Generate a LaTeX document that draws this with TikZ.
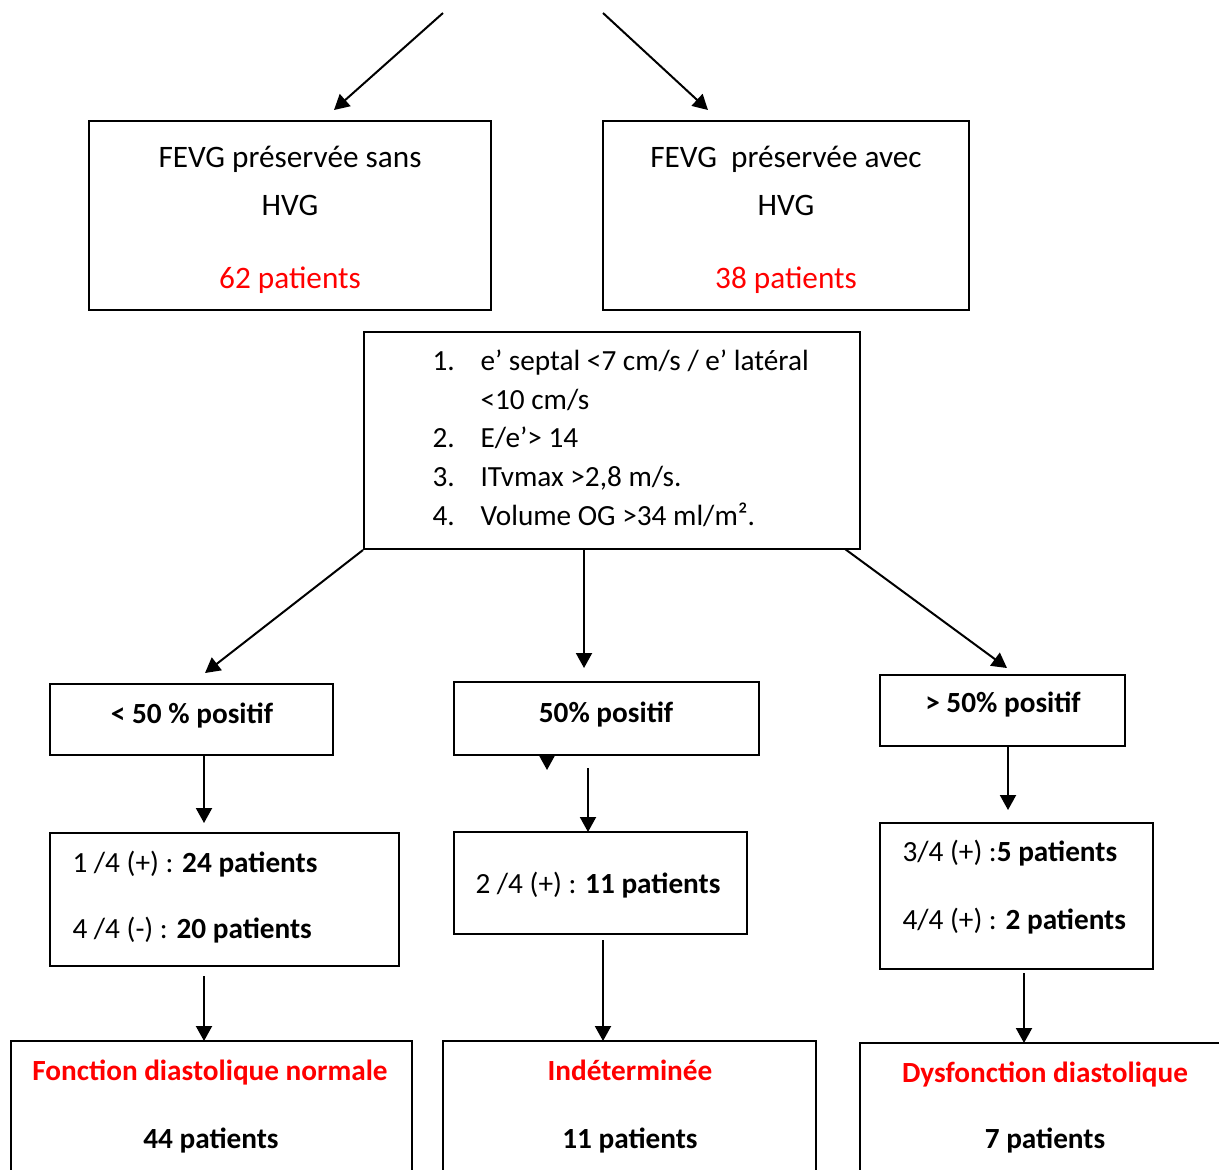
\documentclass[tikz,border=0pt]{standalone}
\usepackage{fontspec}
\setmainfont{Carlito}
\usetikzlibrary{arrows.meta,fit}
\definecolor{hired}{RGB}{255,0,0}
\begin{document}
\begin{tikzpicture}[x=0.4pt,y=-0.4pt,
  box/.style={draw,line width=0.8pt,inner sep=0pt},
  arr/.style={line width=0.8pt,-{Triangle[length=6pt,width=6.4pt]}},
  txt/.style={inner sep=0pt,font=\fontsize{11.7}{14}\selectfont},
  big/.style={inner sep=0pt,font=\fontsize{12.5}{15}\selectfont},
  btxt/.style={inner sep=0pt,font=\fontsize{11.7}{14}\selectfont\bfseries},
  redt/.style={text=hired}]
\useasboundingbox (0,0) rectangle (1219,1169);
\clip (0,0) rectangle (1219,1169);

% top boxes
\node[box,fit={(89,121) (491,310)}] (A) {};
\node[box,fit={(603,121) (969,310)}] (B) {};
\node[big,anchor=base] (a1) at (290,167) {FEVG préservée sans};
\node[big,anchor=base] (a2) at (290,215) {HVG};
\node[big,anchor=base,redt] (a3) at (290,288) {62 patients};
\node[big,anchor=base] (b1) at (786,167) {FEVG\ \ préservée avec};
\node[big,anchor=base] (b2) at (786,215) {HVG};
\node[big,anchor=base,redt] (b3) at (786,288) {38 patients};

\coordinate (t1) at (443,13);
\coordinate (t1e) at (334,110);
\coordinate (t2) at (603,13);
\coordinate (t2e) at (708,110);
\draw[arr] (t1) -- (t1e);
\draw[arr] (t2) -- (t2e);

% criteria box
\node[box,fit={(364,332) (860,549)}] (C) {};
\node[txt,anchor=base west] (n1) at (432,370) {1.};
\node[txt,anchor=base west] (l1) at (480,370) {e’ septal <7 cm/s / e’ latéral};
\node[txt,anchor=base west] (l1b) at (480,409) {<10 cm/s};
\node[txt,anchor=base west] (n2) at (432,447) {2.};
\node[txt,anchor=base west] (l2) at (480,447) {E/e’> 14};
\node[txt,anchor=base west] (n3) at (432,486) {3.};
\node[txt,anchor=base west] (l3) at (480,486) {ITvmax >2,8 m/s.};
\node[txt,anchor=base west] (n4) at (432,525) {4.};
\node[txt,anchor=base west] (l4) at (480,525) {Volume OG >34 ml/m².};

% second level
\node[box,fit={(50,684) (333,755)}] (D1) {};
\node[box,fit={(454,682) (759,755)}] (D2) {};
\node[box,fit={(880,675) (1125,746)}] (D3) {};
\node[btxt,anchor=base] (d1t) at (192,723) {< 50 \% positif};
\node[btxt,anchor=base] (d2t) at (606,722) {50\% positif};
\node[btxt,anchor=base] (d3t) at (1003,712) {> 50\% positif};

\coordinate (c2) at (584,549);
\coordinate (c3) at (845,549);
\coordinate (d1in) at (205,673);
\coordinate (d2in) at (584,668);
\coordinate (d3in) at (1007,668);
\draw[arr] (C.south west) -- (d1in);
\draw[arr] (c2) -- (d2in);
\draw[arr] (c3) -- (d3in);

% third level
\node[box,fit={(50,833) (399,966)}] (E1) {};
\node[box,fit={(454,832) (747,934)}] (E2) {};
\node[box,fit={(880,823) (1153,969)}] (E3) {};
\node[txt,anchor=base west] (e1a) at (72,872) {1 /4 (+) : \textbf{24 patients}};
\node[txt,anchor=base west] (e1b) at (72,938) {4 /4 (-) : \textbf{20 patients}};
\node[txt,anchor=base west] (e2a) at (475,893) {2 /4 (+) : \textbf{11 patients}};
\node[txt,anchor=base west] (e3a) at (902,861) {3/4 (+) :\textbf{5 patients}};
\node[txt,anchor=base west] (e3b) at (902,929) {4/4 (+) : \textbf{2 patients}};

\coordinate (d1o) at (204,755);
\coordinate (e1in) at (204,823);
\coordinate (stray) at (547,755);
\coordinate (straye) at (547,770);
\coordinate (d2o) at (588,768);
\coordinate (e2in) at (588,832);
\coordinate (d3o) at (1008,746);
\coordinate (e3in) at (1008,810);
\draw[arr] (d1o) -- (e1in);
\draw[arr] (stray) -- (straye);
\draw[arr] (d2o) -- (e2in);
\draw[arr] (d3o) -- (e3in);

% bottom boxes
\node[box,fit={(11,1041) (412,1200)}] (F1) {};
\node[box,fit={(443,1041) (816,1200)}] (F2) {};
\node[box,fit={(860,1043) (1240,1200)}] (F3) {};
\node[btxt,anchor=base,redt] (f1a) at (210,1080) {Fonction diastolique normale};
\node[btxt,anchor=base] (f1b) at (211,1148) {44 patients};
\node[btxt,anchor=base,redt] (f2a) at (630,1080) {Indéterminée};
\node[btxt,anchor=base] (f2b) at (630,1148) {11 patients};
\node[btxt,anchor=base,redt] (f3a) at (1045,1082) {Dysfonction diastolique};
\node[btxt,anchor=base] (f3b) at (1045,1148) {7 patients};

\coordinate (e1o) at (204,976);
\coordinate (f1in) at (204,1041);
\coordinate (e2o) at (603,940);
\coordinate (f2in) at (603,1041);
\coordinate (e3o) at (1024,973);
\coordinate (f3in) at (1024,1043);
\draw[arr] (e1o) -- (f1in);
\draw[arr] (e2o) -- (f2in);
\draw[arr] (e3o) -- (f3in);
\end{tikzpicture}
\end{document}
